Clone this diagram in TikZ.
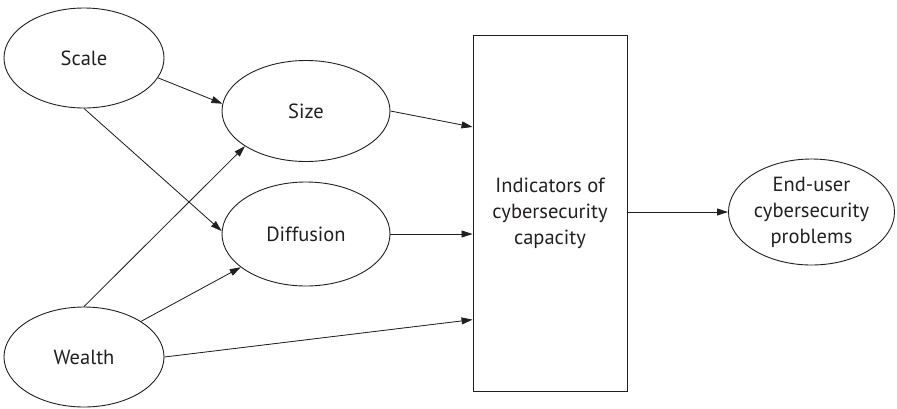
\documentclass[tikz,border=0pt]{standalone}
\usepackage{fontspec}
\setmainfont{PT Sans}
\usetikzlibrary{shapes.geometric,arrows.meta,calc}
\definecolor{ink}{HTML}{231F20}
\tikzset{
  oval/.style={ellipse,draw=ink,line width=0.9pt,inner sep=0pt,minimum width=168pt,minimum height=101pt,
    font=\fontsize{20.5}{26}\selectfont,text=ink,align=center},
  bigbox/.style={rectangle,draw=ink,line width=0.9pt,inner sep=0pt,minimum width=154pt,minimum height=356pt,
    font=\fontsize{20.5}{26}\selectfont,text=ink,align=center},
  link/.style={draw=ink,fill=ink,line width=0.8pt,-{Triangle[length=11pt,width=7pt]}}
}
\begin{document}
\begin{tikzpicture}[x=1pt,y=-1pt]
\useasboundingbox (0,0) rectangle (897,408);
\node[oval,minimum width=160pt,minimum height=100pt] (scale) at (84,58) {Scale};
\node[oval] (size) at (306,111) {Size};
\node[oval,minimum height=104pt] (diff) at (306,234) {Diffusion};
\node[oval,minimum width=160pt,minimum height=100pt] (wealth) at (84,357) {Wealth};
\node[bigbox] (ind) at (550,213) {Indicators of\\cybersecurity\\capacity};
\node[oval,minimum width=166pt,minimum height=106pt] (eu) at (811.5,212) {End-user\\cybersecurity\\problems};
\draw[link] (scale.-15) -- (size.175);
\draw[link] (scale.south) -- (diff.178);
\draw[link] (wealth.north) -- (size.210);
\draw[link] (wealth.32) -- (diff.207);
\draw[link] (wealth.east) -- (ind.234.8);
\draw[link] (size.east) -- (ind.132.9);
\draw[link] (diff.east) -- (diff.east -| ind.west);
\draw[link] (eu.west -| ind.east) -- (eu.west);
\end{tikzpicture}
\end{document}
